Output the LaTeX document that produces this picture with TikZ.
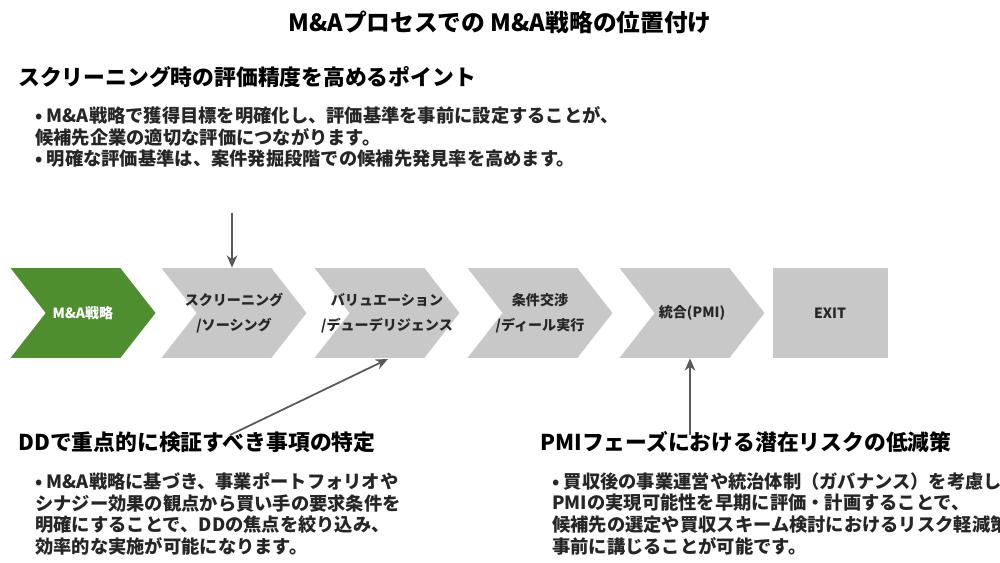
\documentclass[tikz,border=0pt]{standalone}
\usepackage{fontspec}
\setmainfont{Noto Sans CJK JP}
\usetikzlibrary{positioning,shapes.symbols,arrows.meta}
\definecolor{maGreen}{HTML}{4E8E2E}
\definecolor{stepGray}{HTML}{C8C8C8}
\definecolor{arrowGray}{HTML}{595959}
\begin{document}
\begin{tikzpicture}[x=0.02cm,y=-0.02cm,
    stage node/.style={signal,signal to=east,signal from=west,signal pointer angle=104,
                       fill=stepGray,draw=none,minimum width=2.9cm,minimum height=1.8cm,inner sep=0pt,
                       label={[font=\fontsize{8}{10}\selectfont\bfseries,align=center,text=black!85]center:#1}},
    head node/.style={anchor=west,font=\fontsize{12.4}{14}\selectfont\bfseries,inner sep=0pt},
    body node/.style={anchor=north west,font=\fontsize{10.4}{12.4}\selectfont\bfseries,
                      align=left,inner sep=0pt,text=black!85},
    pointer/.style={draw=arrowGray,line width=1pt,-{Stealth[length=7pt,width=6pt]}}
    ]
  \useasboundingbox (0,0) rectangle (1000,563);
  \clip (0,0) rectangle (1000,563);
  % title
  \node[font=\fontsize{13.5}{15}\selectfont\bfseries] (title) at (500,22) {M\&Aプロセスでの M\&A戦略の位置付け};
  % stages
  \node[stage node={\textcolor{white}{M\&A戦略}},fill=maGreen] (s1) at (83,313) {};
  \node[stage node={スクリーニング\\[4pt]/ソーシング}] (s2) at (234,313) {};
  \node[stage node={バリュエーション\\[4pt]/デューデリジェンス}] (s3) at (387,313) {};
  \node[stage node={条件交渉\\[4pt]/ディール実行}] (s4) at (540,313) {};
  \node[stage node={統合(PMI)}] (s5) at (692,313) {};
  \node[fill=stepGray,minimum width=2.3cm,minimum height=1.8cm,inner sep=0pt,
        font=\fontsize{8}{10}\selectfont\bfseries,text=black!85] (s6) at (830,313) {EXIT};
  % points
  \node[head node] (h1) at (18,77) {スクリーニング時の評価精度を高めるポイント};
  \node[body node] (b1) at (35,106) {• M\&A戦略で獲得目標を明確化し、評価基準を事前に設定することが、\\
    候補先企業の適切な評価につながります。\\
    • 明確な評価基準は、案件発掘段階での候補先発見率を高めます。};
  \node[head node] (h2) at (18,442) {DDで重点的に検証すべき事項の特定};
  \node[body node] (b2) at (35,472) {• M\&A戦略に基づき、事業ポートフォリオや\\
    シナジー効果の観点から買い手の要求条件を\\
    明確にすることで、DDの焦点を絞り込み、\\
    効率的な実施が可能になります。};
  \node[head node] (h3) at (540,442) {PMIフェーズにおける潜在リスクの低減策};
  \node[body node] (b3) at (552,472) {• 買収後の事業運営や統治体制（ガバナンス）を考慮し、\\
    PMIの実現可能性を早期に評価・計画することで、\\
    候補先の選定や買収スキーム検討におけるリスク軽減策を\\
    事前に講じることが可能です。};
  % connectors
  \coordinate (p1) at (232,213);
  \coordinate (p2) at (230,435);
  \coordinate (p3) at (690,435);
  \draw[pointer] (p1) -- (p1 |- s2.north);
  \draw[pointer] (p2) -- (388,359);
  \draw[pointer] (p3) -- (p3 |- s5.south);
\end{tikzpicture}
\end{document}
